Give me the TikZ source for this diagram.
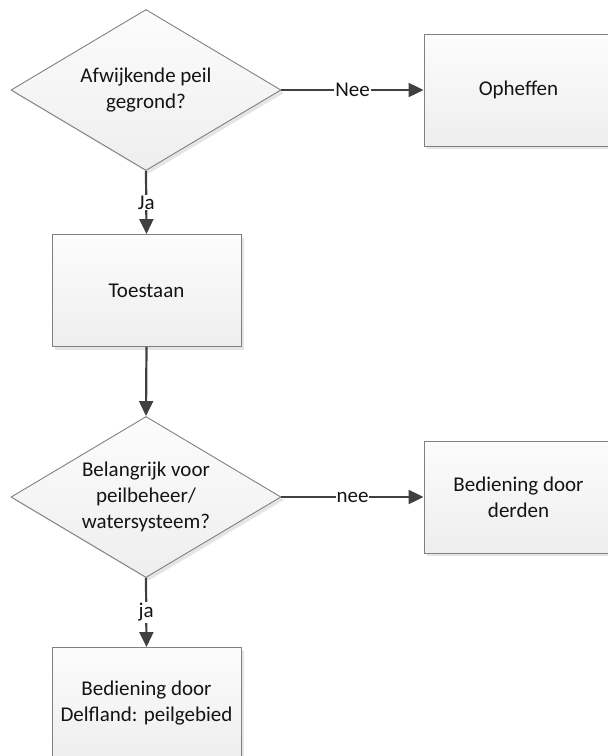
\documentclass[tikz,border=0pt]{standalone}
\usepackage{fontspec}
\setmainfont{Carlito}
\usetikzlibrary{shapes.geometric,arrows.meta,shadows}
\definecolor{edgegray}{RGB}{128,128,128}
\definecolor{arrowgray}{RGB}{64,64,64}
\definecolor{filltop}{RGB}{252,252,252}
\definecolor{fillbot}{RGB}{238,238,238}
\tikzset{
  x=1pt, y=-1pt,
  txt/.style={font=\fontsize{21}{26}\selectfont, align=center, text=black!92},
  boxshape/.style={draw=edgegray, line width=0.9pt, top color=filltop, bottom color=fillbot,
    drop shadow={shadow xshift=3pt, shadow yshift=-3pt, fill=black!20, opacity=0.5}},
  procbox/.style={boxshape, rectangle, minimum width=189pt, minimum height=112pt, inner sep=0pt, txt},
  decision/.style={boxshape, diamond, minimum width=270pt, minimum height=161pt, inner sep=0pt},
  flow/.style={draw=arrowgray, line width=2.2pt, -{Triangle[length=15pt,width=14pt]}},
  lbl/.style={txt, fill=white, inner sep=1pt}
}
\begin{document}
\begin{tikzpicture}
\useasboundingbox (0,0) rectangle (608,756);
\node[decision, label={[txt]center:Afwijkende peil\\gegrond?}] (d1) at (146,90) {};
\node[procbox] (op) at (518.5,90) {Opheffen};
\node[procbox] (toe) at (146.5,290.5) {Toestaan};
\node[decision, label={[txt]center:Belangrijk voor\\peilbeheer/\\watersysteem?}] (d2) at (146,497) {};
\node[procbox] (der) at (518.5,497) {Bediening door\\derden};
\node[procbox] (del) at (146.5,703.5) {Bediening door\\Delfland: peilgebied};
\draw[flow] (d1.east) -- node[lbl] (nee1) {Nee} (op.west);
\draw[flow] (d1.south) -- node[lbl] (ja1) {Ja} (toe.north);
\draw[flow] (toe.south) -- (d2.north);
\draw[flow] (d2.east) -- node[lbl] (nee2) {nee} (der.west);
\draw[flow] (d2.south) -- node[lbl] (ja2) {ja} (del.north);
\end{tikzpicture}
\end{document}
